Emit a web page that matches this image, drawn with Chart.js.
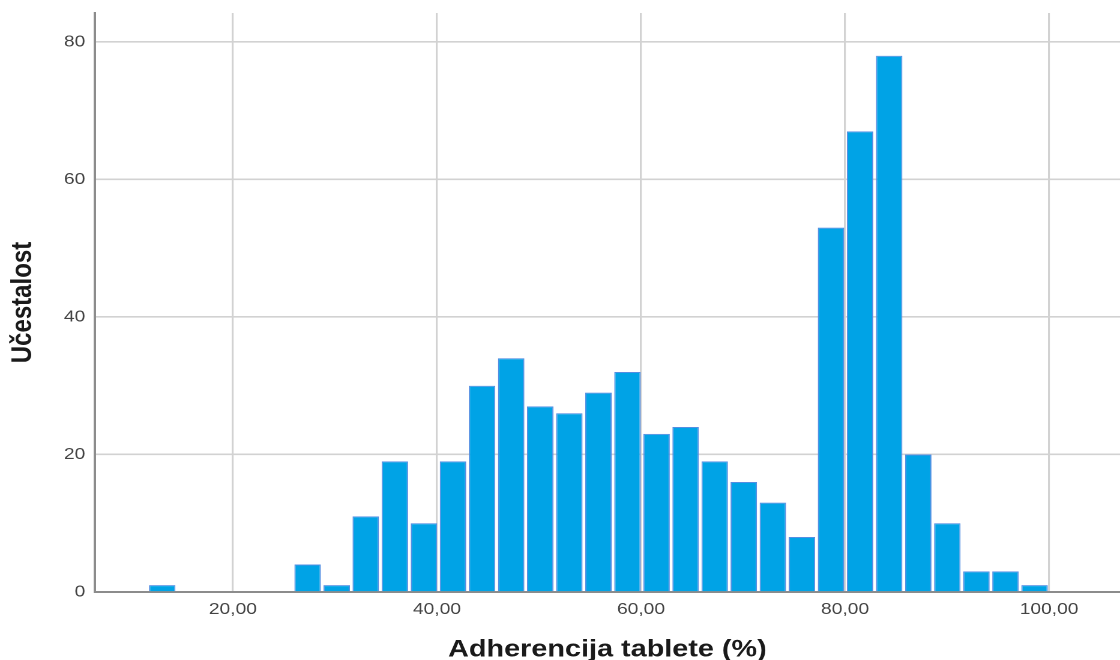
<!DOCTYPE html>
<html lang="hr">
<head>
  <meta charset="UTF-8" />
  <title>Adherencija tablete (%)</title>
  <script src="https://cdn.jsdelivr.net/npm/chart.js"></script>
  <style>
    html, body {
      margin: 0;
      padding: 0;
      background: #fff;
      overflow: hidden;
    }
    #histo {
      display: block;
    }
  </style>
</head>
<body>
  <!-- the source picture is stretched sideways, so the canvas is drawn 933 wide and shown 1120 wide -->
  <canvas id="histo" width="933" height="660" style="width:1120px;height:660px"></canvas>

  <script>
    // sredine razreda (sirina razreda 2,85) i ucestalosti
    const binCenters = [13.075, 27.325, 30.175, 33.025, 35.875, 38.725, 41.575,
      44.425, 47.275, 50.125, 52.975, 55.825, 58.675, 61.525, 64.375, 67.225,
      70.075, 72.925, 75.775, 78.625, 81.475, 84.325, 87.175, 90.025, 92.875,
      95.725, 98.575];
    const counts = [1, 4, 1, 11, 19, 10, 19, 30, 34, 27, 26, 29, 32, 23, 24, 19,
      16, 13, 8, 53, 67, 78, 20, 10, 3, 3, 1];
    const xTicks = [20, 40, 60, 80, 100];
    const yTicks = [0, 20, 40, 60, 80];

    const tickFont = { family: "'Liberation Sans', Arial, sans-serif", size: 16 };
    const titleFont = { family: "'Liberation Sans', Arial, sans-serif", size: 24, weight: 'bold' };

    const ctx = document.getElementById('histo').getContext('2d');

    const chart = new Chart(ctx, {
      type: 'bar',
      data: {
        datasets: [{
          label: 'Učestalost',
          data: binCenters.map((c, i) => ({ x: c, y: counts[i] })),
          backgroundColor: 'rgb(0, 163, 230)',
          borderColor: 'rgb(84, 142, 226)',
          borderWidth: 1,
          barPercentage: 0.91,
          categoryPercentage: 1
        }]
      },
      options: {
        responsive: false,
        animation: false,
        devicePixelRatio: 2,
        layout: {
          padding: { top: 13, right: 0, bottom: 0, left: 0 }
        },
        plugins: {
          legend: { display: false },
          tooltip: { enabled: false }
        },
        scales: {
          x: {
            type: 'linear',
            min: 6.47,
            max: 106.95,
            offset: false,
            afterBuildTicks: axis => { axis.ticks = xTicks.map(v => ({ value: v })); },
            afterFit: axis => { axis.height = 68; },
            ticks: {
              padding: 8,
              color: '#444',
              font: tickFont,
              maxRotation: 0,
              autoSkip: false,
              callback: v => v.toFixed(2).replace('.', ',')
            },
            grid: {
              offset: false,
              drawTicks: false,
              color: '#d2d2d2',
              lineWidth: 1.6
            },
            border: { display: true, color: '#8c8c8c', width: 2 },
            title: {
              display: true,
              text: 'Adherencija tablete (%)',
              color: '#1a1a1a',
              font: Object.assign({ lineHeight: 0.83 }, titleFont),
              padding: 0
            }
          },
          y: {
            min: 0,
            max: 84.22,
            afterBuildTicks: axis => { axis.ticks = yTicks.map(v => ({ value: v })); },
            afterFit: axis => {
              axis.width = 79;
              axis.paddingTop = 0;
              axis.paddingBottom = 0;
            },
            ticks: {
              padding: 8,
              color: '#444',
              font: tickFont
            },
            grid: {
              drawTicks: false,
              color: '#d2d2d2',
              lineWidth: 1.6
            },
            border: { display: true, color: '#8c8c8c', width: 2 },
            title: {
              display: true,
              text: 'Učestalost',
              color: '#1a1a1a',
              font: titleFont,
              padding: { top: 5, bottom: 0 }
            }
          }
        }
      }
    });
  </script>
</body>
</html>
